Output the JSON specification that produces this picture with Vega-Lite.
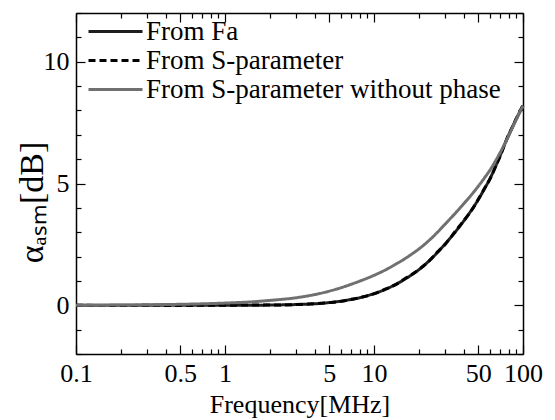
{
  "$schema": "https://vega.github.io/schema/vega-lite/v6.json",
  "width": 447,
  "height": 341,
  "autosize": {"type": "none"},
  "padding": {"left": 76, "top": 13, "right": 32, "bottom": 66},
  "background": "white",
  "config": {
    "view": {"stroke": null},
    "font": "Liberation Serif",
    "axis": {
      "grid": false,
      "domainColor": "#000",
      "domainWidth": 1.5,
      "tickColor": "#000",
      "tickWidth": 1.2,
      "labelColor": "#000",
      "labelFont": "Liberation Serif",
      "labelFontSize": 26,
      "labelFlush": false,
      "labelOverlap": false,
      "titleFont": "Liberation Serif",
      "titleFontWeight": "normal",
      "titleColor": "#000",
      "titleFontSize": 26
    }
  },
  "data": {
    "values": [
      {"f": 0.1, "a": 0.0, "s": "From Fa"}, {"f": 0.2, "a": 0.0, "s": "From Fa"}, {"f": 0.3, "a": 0.0, "s": "From Fa"}, {"f": 0.5, "a": 0.0, "s": "From Fa"}, {"f": 0.7, "a": 0.0, "s": "From Fa"}, {"f": 1, "a": 0.0, "s": "From Fa"}, {"f": 1.5, "a": 0.0, "s": "From Fa"}, {"f": 2, "a": 0.01, "s": "From Fa"}, {"f": 3, "a": 0.03, "s": "From Fa"}, {"f": 4, "a": 0.06, "s": "From Fa"}, {"f": 5, "a": 0.11, "s": "From Fa"}, {"f": 6, "a": 0.17, "s": "From Fa"}, {"f": 7, "a": 0.24, "s": "From Fa"}, {"f": 8, "a": 0.31, "s": "From Fa"}, {"f": 10, "a": 0.48, "s": "From Fa"}, {"f": 12, "a": 0.66, "s": "From Fa"}, {"f": 14, "a": 0.86, "s": "From Fa"}, {"f": 16, "a": 1.06, "s": "From Fa"}, {"f": 18, "a": 1.26, "s": "From Fa"}, {"f": 20, "a": 1.46, "s": "From Fa"}, {"f": 23, "a": 1.78, "s": "From Fa"}, {"f": 26, "a": 2.1, "s": "From Fa"}, {"f": 30, "a": 2.52, "s": "From Fa"}, {"f": 35, "a": 3.0, "s": "From Fa"}, {"f": 40, "a": 3.46, "s": "From Fa"}, {"f": 45, "a": 3.9, "s": "From Fa"}, {"f": 50, "a": 4.33, "s": "From Fa"}, {"f": 55, "a": 4.77, "s": "From Fa"}, {"f": 60, "a": 5.2, "s": "From Fa"}, {"f": 65, "a": 5.65, "s": "From Fa"}, {"f": 70, "a": 6.12, "s": "From Fa"}, {"f": 75, "a": 6.58, "s": "From Fa"}, {"f": 80, "a": 6.98, "s": "From Fa"}, {"f": 85, "a": 7.33, "s": "From Fa"}, {"f": 90, "a": 7.64, "s": "From Fa"}, {"f": 95, "a": 7.93, "s": "From Fa"}, {"f": 100, "a": 8.2, "s": "From Fa"},
      {"f": 0.1, "a": 0.0, "s": "From S-parameter"}, {"f": 0.2, "a": -0.01, "s": "From S-parameter"}, {"f": 0.3, "a": 0.0, "s": "From S-parameter"}, {"f": 0.5, "a": -0.01, "s": "From S-parameter"}, {"f": 0.7, "a": 0.0, "s": "From S-parameter"}, {"f": 1, "a": 0.0, "s": "From S-parameter"}, {"f": 1.5, "a": 0.01, "s": "From S-parameter"}, {"f": 2, "a": 0.01, "s": "From S-parameter"}, {"f": 3, "a": 0.03, "s": "From S-parameter"}, {"f": 4, "a": 0.07, "s": "From S-parameter"}, {"f": 5, "a": 0.11, "s": "From S-parameter"}, {"f": 6, "a": 0.16, "s": "From S-parameter"}, {"f": 7, "a": 0.24, "s": "From S-parameter"}, {"f": 8, "a": 0.31, "s": "From S-parameter"}, {"f": 10, "a": 0.47, "s": "From S-parameter"}, {"f": 12, "a": 0.67, "s": "From S-parameter"}, {"f": 14, "a": 0.85, "s": "From S-parameter"}, {"f": 16, "a": 1.08, "s": "From S-parameter"}, {"f": 18, "a": 1.27, "s": "From S-parameter"}, {"f": 20, "a": 1.47, "s": "From S-parameter"}, {"f": 23, "a": 1.77, "s": "From S-parameter"}, {"f": 26, "a": 2.12, "s": "From S-parameter"}, {"f": 30, "a": 2.5, "s": "From S-parameter"}, {"f": 35, "a": 3.02, "s": "From S-parameter"}, {"f": 40, "a": 3.47, "s": "From S-parameter"}, {"f": 45, "a": 3.88, "s": "From S-parameter"}, {"f": 50, "a": 4.34, "s": "From S-parameter"}, {"f": 55, "a": 4.78, "s": "From S-parameter"}, {"f": 60, "a": 5.18, "s": "From S-parameter"}, {"f": 65, "a": 5.66, "s": "From S-parameter"}, {"f": 70, "a": 6.1, "s": "From S-parameter"}, {"f": 75, "a": 6.57, "s": "From S-parameter"}, {"f": 80, "a": 7.0, "s": "From S-parameter"}, {"f": 85, "a": 7.32, "s": "From S-parameter"}, {"f": 90, "a": 7.66, "s": "From S-parameter"}, {"f": 95, "a": 7.94, "s": "From S-parameter"}, {"f": 100, "a": 8.22, "s": "From S-parameter"},
      {"f": 0.1, "a": 0.0, "s": "From S-parameter without phase"}, {"f": 0.2, "a": 0.01, "s": "From S-parameter without phase"}, {"f": 0.3, "a": 0.02, "s": "From S-parameter without phase"}, {"f": 0.5, "a": 0.04, "s": "From S-parameter without phase"}, {"f": 0.7, "a": 0.06, "s": "From S-parameter without phase"}, {"f": 1, "a": 0.09, "s": "From S-parameter without phase"}, {"f": 1.5, "a": 0.14, "s": "From S-parameter without phase"}, {"f": 2, "a": 0.2, "s": "From S-parameter without phase"}, {"f": 3, "a": 0.31, "s": "From S-parameter without phase"}, {"f": 4, "a": 0.44, "s": "From S-parameter without phase"}, {"f": 5, "a": 0.58, "s": "From S-parameter without phase"}, {"f": 6, "a": 0.72, "s": "From S-parameter without phase"}, {"f": 7, "a": 0.86, "s": "From S-parameter without phase"}, {"f": 8, "a": 0.99, "s": "From S-parameter without phase"}, {"f": 10, "a": 1.23, "s": "From S-parameter without phase"}, {"f": 12, "a": 1.46, "s": "From S-parameter without phase"}, {"f": 14, "a": 1.69, "s": "From S-parameter without phase"}, {"f": 16, "a": 1.9, "s": "From S-parameter without phase"}, {"f": 18, "a": 2.11, "s": "From S-parameter without phase"}, {"f": 20, "a": 2.31, "s": "From S-parameter without phase"}, {"f": 23, "a": 2.62, "s": "From S-parameter without phase"}, {"f": 26, "a": 2.93, "s": "From S-parameter without phase"}, {"f": 30, "a": 3.33, "s": "From S-parameter without phase"}, {"f": 35, "a": 3.77, "s": "From S-parameter without phase"}, {"f": 40, "a": 4.17, "s": "From S-parameter without phase"}, {"f": 45, "a": 4.53, "s": "From S-parameter without phase"}, {"f": 50, "a": 4.88, "s": "From S-parameter without phase"}, {"f": 55, "a": 5.22, "s": "From S-parameter without phase"}, {"f": 60, "a": 5.55, "s": "From S-parameter without phase"}, {"f": 65, "a": 5.9, "s": "From S-parameter without phase"}, {"f": 70, "a": 6.25, "s": "From S-parameter without phase"}, {"f": 75, "a": 6.6, "s": "From S-parameter without phase"}, {"f": 80, "a": 6.95, "s": "From S-parameter without phase"}, {"f": 85, "a": 7.3, "s": "From S-parameter without phase"}, {"f": 90, "a": 7.62, "s": "From S-parameter without phase"}, {"f": 95, "a": 7.92, "s": "From S-parameter without phase"}, {"f": 100, "a": 8.18, "s": "From S-parameter without phase"}
    ]
  },
  "layer": [
    {
      "mark": {"type": "line", "interpolate": "monotone", "strokeCap": "butt"},
      "encoding": {
        "x": {
          "field": "f", "type": "quantitative",
          "scale": {"type": "log", "domain": [0.1, 100]},
          "axis": {
            "orient": "bottom",
            "values": [0.1, 0.2, 0.3, 0.4, 0.5, 0.6, 0.7, 0.8, 0.9, 1, 2, 3, 4, 5, 6, 7, 8, 9, 10, 20, 30, 40, 50, 60, 70, 80, 90, 100],
            "labelExpr": "indexof([0.1, 0.5, 1, 5, 10, 50, 100], datum.value) >= 0 ? datum.value : ''",
            "tickSize": {"condition": {"test": "indexof([0.1, 0.5, 1, 5, 10, 50, 100], datum.value) >= 0", "value": -9}, "value": -5},
            "labelPadding": 15,
            "labelBaseline": "top",
            "title": "Frequency[MHz]",
            "titlePadding": 1
          }
        },
        "y": {
          "field": "a", "type": "quantitative",
          "scale": {"domain": [-2, 12], "nice": false, "zero": false},
          "axis": {
            "orient": "left",
            "values": [-2, -1, 0, 1, 2, 3, 4, 5, 6, 7, 8, 9, 10, 11, 12],
            "labelExpr": "indexof([0, 5, 10], datum.value) >= 0 ? datum.value : ''",
            "tickSize": {"condition": {"test": "indexof([0, 5, 10], datum.value) >= 0", "value": -9}, "value": -5},
            "labelPadding": 16,
            "title": "αₐₛₘ[dB]",
            "titleFontSize": 34,
            "titleX": -44,
            "titleY": 189,
            "titleBaseline": "middle"
          }
        },
        "color": {
          "field": "s", "type": "nominal",
          "scale": {"domain": ["From Fa", "From S-parameter", "From S-parameter without phase"], "range": ["#1e1e1e", "#000000", "#707070"]},
          "legend": {
            "title": null, "orient": "none", "legendX": 8, "legendY": 5,
            "symbolType": "M-1,0H5", "symbolSize": 324,
            "labelFont": "Liberation Serif", "labelFontSize": 27, "labelColor": "#000",
            "labelOffset": 35, "labelLimit": 600, "padding": 0, "rowPadding": 1
          }
        },
        "strokeDash": {
          "field": "s", "type": "nominal",
          "scale": {"domain": ["From Fa", "From S-parameter", "From S-parameter without phase"], "range": [[1, 0], [7, 4], [1, 0]]},
          "legend": {
            "title": null, "orient": "none", "legendX": 8, "legendY": 5,
            "symbolType": "M-1,0H5", "symbolSize": 324,
            "labelFont": "Liberation Serif", "labelFontSize": 27, "labelColor": "#000",
            "labelOffset": 35, "labelLimit": 600, "padding": 0, "rowPadding": 1
          }
        },
        "strokeWidth": {
          "field": "s", "type": "nominal",
          "scale": {"domain": ["From Fa", "From S-parameter", "From S-parameter without phase"], "range": [3, 3, 2]},
          "legend": {
            "title": null, "orient": "none", "legendX": 8, "legendY": 5,
            "symbolType": "M-1,0H5", "symbolSize": 324,
            "labelFont": "Liberation Serif", "labelFontSize": 27, "labelColor": "#000",
            "labelOffset": 35, "labelLimit": 600, "padding": 0, "rowPadding": 1
          }
        }
      }
    },
    {
      "mark": {"type": "line", "opacity": 0},
      "encoding": {
        "x": {
          "field": "f", "type": "quantitative",
          "scale": {"type": "log", "domain": [0.1, 100]},
          "axis": {
            "orient": "top",
            "values": [0.1, 0.2, 0.3, 0.4, 0.5, 0.6, 0.7, 0.8, 0.9, 1, 2, 3, 4, 5, 6, 7, 8, 9, 10, 20, 30, 40, 50, 60, 70, 80, 90, 100],
            "labels": false,
            "tickSize": {"condition": {"test": "indexof([0.1, 0.5, 1, 5, 10, 50, 100], datum.value) >= 0", "value": -9}, "value": -5},
            "title": null
          }
        },
        "y": {
          "field": "a", "type": "quantitative",
          "scale": {"domain": [-2, 12], "nice": false, "zero": false},
          "axis": {
            "orient": "right",
            "values": [-2, -1, 0, 1, 2, 3, 4, 5, 6, 7, 8, 9, 10, 11, 12],
            "labels": false,
            "tickSize": {"condition": {"test": "indexof([0, 5, 10], datum.value) >= 0", "value": -9}, "value": -5},
            "title": null
          }
        },
        "detail": {"field": "s", "type": "nominal"}
      }
    }
  ],
  "resolve": {"axis": {"x": "independent", "y": "independent"}}
}
